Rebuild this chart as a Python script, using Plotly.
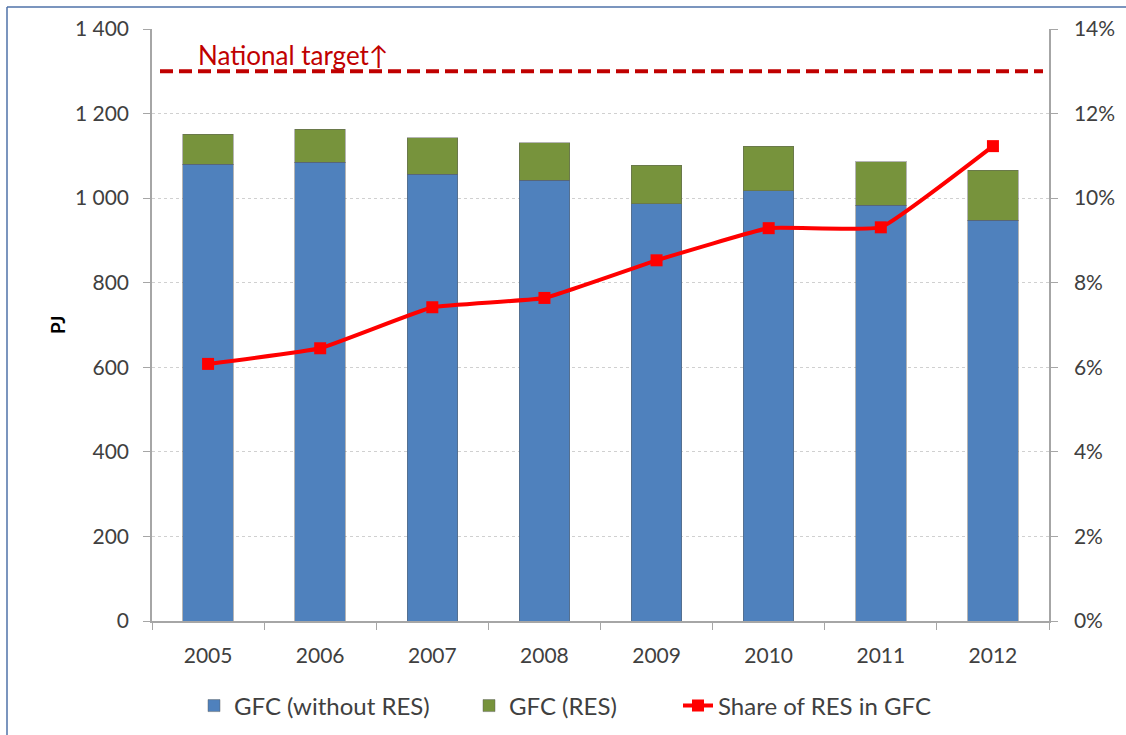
import plotly.graph_objects as go

years = ["2005", "2006", "2007", "2008", "2009", "2010", "2011", "2012"]
gfc_without_res = [1080, 1085, 1057, 1042, 987, 1017, 983, 948]
gfc_res = [71, 78, 86, 89, 91, 106, 103, 118]
share_res = [6.08, 6.45, 7.42, 7.64, 8.53, 9.29, 9.31, 11.23]
national_target = 13.0

left_ticks = [0, 200, 400, 600, 800, 1000, 1200, 1400]
left_labels = ["0", "200", "400", "600", "800", "1 000", "1 200", "1 400"]
right_ticks = [0, 2, 4, 6, 8, 10, 12, 14]
right_labels = ["0%", "2%", "4%", "6%", "8%", "10%", "12%", "14%"]

FONT = "Lato, 'Open Sans', sans-serif"
TXT = "#404040"
W, H = 1126, 735
L, R, T, B = 152, 77, 29, 114
PW, PH = W - L - R, H - T - B


def px(x):
    return (x - L) / PW


def py(y):
    return (H - B - y) / PH


fig = go.Figure()
fig.add_trace(go.Bar(
    x=years, y=gfc_without_res, name="GFC (without RES)", legend="legend",
    marker=dict(color="#4f81bd", line=dict(color="rgba(90,90,90,0.45)", width=1)),
))
fig.add_trace(go.Bar(
    x=years, y=gfc_res, name="GFC (RES)", legend="legend2",
    marker=dict(color="#77933c", line=dict(color="rgba(90,90,90,0.45)", width=1)),
))
fig.add_trace(go.Scatter(
    x=years, y=share_res, name="Share of RES in GFC", yaxis="y2", legend="legend3",
    mode="lines+markers",
    line=dict(color="#ff0000", width=4, shape="spline", smoothing=0.3),
    marker=dict(symbol="square", size=12, color="#ff0000"),
))

fig.add_shape(type="line", xref="paper", yref="y2",
              x0=px(160), x1=px(1043), y0=national_target, y1=national_target,
              line=dict(color="#c00000", width=4, dash="13px,6px"))
fig.add_annotation(xref="paper", yref="paper", x=px(196), y=py(55),
                   xanchor="left", yanchor="middle", showarrow=False,
                   text="National target\u2191", font=dict(family=FONT, size=26, color="#c00000"))
fig.add_annotation(xref="paper", yref="paper", x=px(57), y=0.5,
                   xanchor="center", yanchor="middle", showarrow=False, textangle=-90,
                   text="<b>PJ</b>", font=dict(family=FONT, size=19, color="#000000"))

# outer frame
fig.add_shape(type="line", xref="paper", yref="paper",
              x0=px(7), x1=px(7), y0=py(740), y1=py(7),
              line=dict(color="#4f72a8", width=1.5))
fig.add_shape(type="line", xref="paper", yref="paper",
              x0=px(7), x1=px(1130), y0=py(7), y1=py(7),
              line=dict(color="#4f72a8", width=1.5))

leg_common = dict(orientation="h", yanchor="middle", y=py(706), xanchor="left",
                  font=dict(family=FONT, size=24, color=TXT), bgcolor="rgba(0,0,0,0)")

fig.update_layout(
    width=W, height=H,
    margin=dict(l=L, r=R, t=T, b=B, autoexpand=False),
    barmode="stack", bargap=0.55,
    plot_bgcolor="white", paper_bgcolor="white",
    font=dict(family=FONT, size=21, color=TXT),
    showlegend=True,
    legend=dict(x=px(194), **leg_common),
    legend2=dict(x=px(469), **leg_common),
    legend3=dict(x=px(678), **leg_common),
    xaxis=dict(type="category", showline=True, linecolor="#a6a6a6", linewidth=1.5,
               ticks="outside", tickson="boundaries", ticklen=7, tickcolor="#a6a6a6",
               ticklabelstandoff=15, automargin=False,
               tickfont=dict(family=FONT, size=21, color=TXT), showgrid=False),
    yaxis=dict(range=[0, 1400], tickvals=left_ticks, ticktext=left_labels,
               showline=True, linecolor="#a6a6a6", linewidth=1.5,
               ticks="outside", ticklen=7, tickcolor="#a6a6a6", ticklabelstandoff=10,
               showgrid=True, gridcolor="#d0d0d0", griddash="dot", gridwidth=1,
               zeroline=False, automargin=False, tickfont=dict(family=FONT, size=21, color=TXT)),
    yaxis2=dict(range=[0, 14], tickvals=right_ticks, ticktext=right_labels,
                overlaying="y", side="right", showline=True, linecolor="#a6a6a6", linewidth=1.5,
                ticks="outside", ticklen=7, tickcolor="#a6a6a6", showgrid=False, ticklabelstandoff=12,
                zeroline=False, automargin=False, tickfont=dict(family=FONT, size=21, color=TXT)),
)

fig.write_html("out.html", config={"displayModeBar": False},
               post_script="document.body.style.margin='0';")
